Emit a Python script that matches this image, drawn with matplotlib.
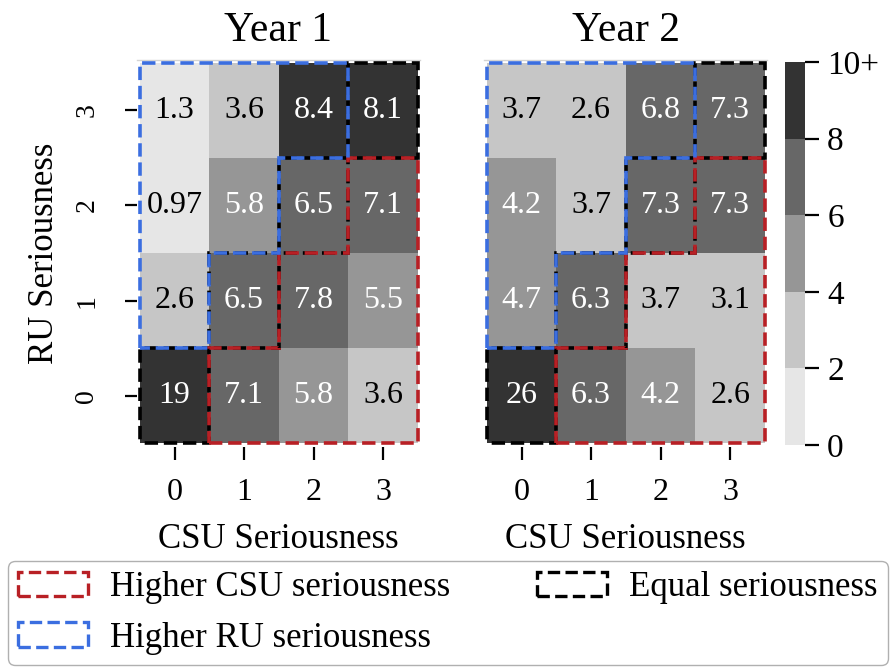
import numpy as np
import matplotlib
matplotlib.use("Agg")
import matplotlib.pyplot as plt
import matplotlib.patches as mpatches
from matplotlib.colors import ListedColormap, BoundaryNorm

plt.rcParams["font.family"] = ["Liberation Serif", "DejaVu Serif"]

# RU seriousness on rows (0 at bottom), CSU seriousness on columns
ru_levels = [0, 1, 2, 3]
csu_levels = [0, 1, 2, 3]

year1 = [
    [19, 7.1, 5.8, 3.6],    # RU 0
    [2.6, 6.5, 7.8, 5.5],   # RU 1
    [0.97, 5.8, 6.5, 7.1],  # RU 2
    [1.3, 3.6, 8.4, 8.1],   # RU 3
]
year2 = [
    [26, 6.3, 4.2, 2.6],
    [4.7, 6.3, 3.7, 3.1],
    [4.2, 3.7, 7.3, 7.3],
    [3.7, 2.6, 6.8, 7.3],
]
titles = ["Year 1", "Year 2"]

bounds = [0, 2, 4, 6, 8, 10]
bound_labels = ["0", "2", "4", "6", "8", "10+"]
grays = ["#e6e6e6", "#c6c6c6", "#969696", "#676767", "#333333"]

RED = "#b82025"
BLUE = "#3b6ee0"

cmap = ListedColormap(grays)
cmap.set_over(grays[-1])
norm = BoundaryNorm(bounds, cmap.N)


def region_outline(n, upper):
    # staircase polygon around cells with col > row (upper) or row > col
    pts = []
    if upper:
        pts.append((1, 0))
        pts.append((n, 0))
        pts.append((n, n - 1))
        for k in range(n - 1, 0, -1):
            pts.append((k, k))
            pts.append((k, k - 1))
    else:
        pts.append((0, 1))
        pts.append((0, n))
        pts.append((n - 1, n))
        for k in range(n - 1, 0, -1):
            pts.append((k, k))
            pts.append((k - 1, k))
    return pts


def draw_heat(ax, data, title, show_ylabel):
    data = np.array(data, dtype=float)
    n = len(csu_levels)
    edges = np.arange(n + 1)
    ax.pcolormesh(edges, edges, data, cmap=cmap, norm=norm)

    for r in range(n):
        for c in range(n):
            v = data[r, c]
            ax.text(c + 0.5, r + 0.5, f"{v:.2g}", ha="center", va="center",
                    fontsize=23, color="white" if v >= 4 else "black")

    lw = 2.6
    # diagonal cells: equal seriousness
    for k in range(n):
        sq = mpatches.Rectangle((k, k), 1, 1, fill=False, edgecolor="black",
                                linewidth=lw, linestyle=(4, (3.7, 1.6)),
                                clip_on=False, zorder=3)
        ax.add_patch(sq)
    ax.add_patch(mpatches.Polygon(region_outline(n, True), closed=True, fill=False,
                                  edgecolor=RED, linewidth=lw, linestyle="--",
                                  clip_on=False, zorder=4))
    ax.add_patch(mpatches.Polygon(region_outline(n, False), closed=True, fill=False,
                                  edgecolor=BLUE, linewidth=lw, linestyle="--",
                                  clip_on=False, zorder=4))

    ax.set_xlim(-0.04, n + 0.03)
    ax.set_ylim(-0.04, n + 0.03)
    ax.set_xticks(edges[:-1] + 0.5)
    ax.set_xticklabels([str(v) for v in csu_levels])
    ax.set_yticks(edges[:-1] + 0.5)
    ax.set_title(title, fontsize=30, pad=14)
    ax.set_xlabel("CSU Seriousness", fontsize=25, labelpad=12)
    ax.tick_params(axis="x", length=9, width=1.6, pad=13, labelsize=23)
    ax.tick_params(axis="y", length=9, width=1.6, pad=18, labelsize=20)
    if show_ylabel:
        ax.set_yticklabels([str(v) for v in ru_levels], rotation=90, va="center")
        ax.set_ylabel("RU Seriousness", fontsize=25, labelpad=10)
    else:
        ax.set_yticks([])
    for side in ["left", "right", "bottom"]:
        ax.spines[side].set_visible(False)
    ax.spines["top"].set_color("#d4d4d4")
    ax.spines["top"].set_linewidth(1.0)


fig = plt.figure(figsize=(8.91, 6.68), dpi=100)
W, H = 891, 668


def frac(x0, y0, x1, y1):
    return [x0 / W, 1 - y1 / H, (x1 - x0) / W, (y1 - y0) / H]


ax1 = fig.add_axes(frac(137, 60, 420, 447))
ax2 = fig.add_axes(frac(484, 60, 767, 447))
cax = fig.add_axes(frac(785, 62, 805, 445))

draw_heat(ax1, year1, titles[0], True)
draw_heat(ax2, year2, titles[1], False)

sm = plt.cm.ScalarMappable(cmap=cmap, norm=norm)
cb = fig.colorbar(sm, cax=cax, ticks=bounds)
cb.set_ticklabels(bound_labels)
cb.outline.set_visible(False)
cax.tick_params(length=10, width=1.6, labelsize=24, pad=6)

handles = [
    mpatches.Patch(facecolor="none", edgecolor=RED, linestyle="--", linewidth=2.4,
                   label="Higher CSU seriousness"),
    mpatches.Patch(facecolor="none", edgecolor=BLUE, linestyle="--", linewidth=2.4,
                   label="Higher RU seriousness"),
    mpatches.Patch(facecolor="none", edgecolor="black", linestyle="--", linewidth=2.4,
                   label="Equal seriousness"),
]
fig.legend(handles=handles, ncol=2, loc="lower left",
           bbox_to_anchor=(8 / W, 3 / H, 880 / W, 106 / H), mode="expand",
           fontsize=25, frameon=True, fancybox=True, edgecolor="#b0b0b0",
           framealpha=1, handlelength=2.0, handleheight=0.7, handletextpad=0.65,
           borderaxespad=0, labelspacing=0.5, borderpad=0.3)

fig.savefig("out.png", dpi=100)
